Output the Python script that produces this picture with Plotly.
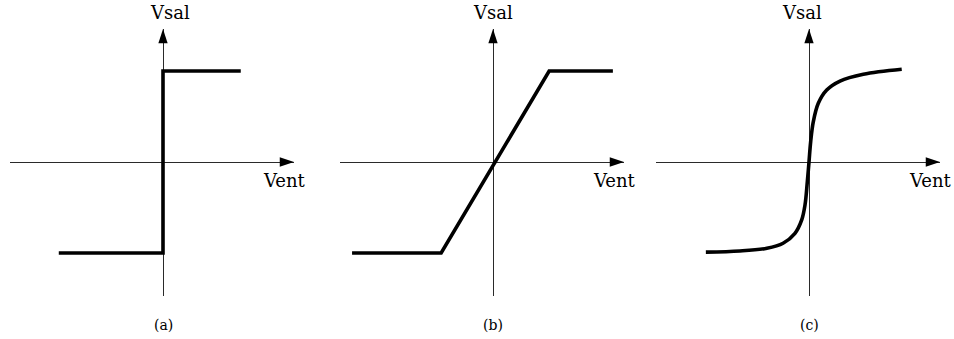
import plotly.graph_objects as go

W, H = 954, 339

# Transfer characteristics: Vent (input) and Vsal (output, normalised to saturation)
step_vent = [-1.93, 0, 0, 1.44]
step_vsal = [-1, -1, 1, 1]

ramp_vent = [-2.61, -0.96, 1.04, 2.22]
ramp_vsal = [-1, -1, 1, 1]

sigm_vent = [-1.91, -1.28, -0.78, -0.48, -0.26, -0.135, -0.074, -0.031, 0,
             0.031, 0.08, 0.172, 0.328, 0.574, 1.006, 1.717]
sigm_vsal = [-0.99, -0.978, -0.948, -0.893, -0.784, -0.637, -0.473, -0.216, 0,
             0.223, 0.443, 0.645, 0.791, 0.89, 0.964, 1.019]

panel_labels = ["(a)", "(b)", "(c)"]
x_title = "Vent"
y_title = "Vsal"

# ---- geometry (pixels) ----
PX_X, PX_Y = 54.0, 91.0          # pixels per data unit
origins_px = [163, 493, 809]      # x pixel of each vertical axis
AX_LEFT, AX_RIGHT = 153, 131      # extent of horizontal axis around origin
Y0_PX, Y_TOP_PX, Y_BOT_PX = 162, 29, 296

x_range = [-AX_LEFT / PX_X, AX_RIGHT / PX_X]
y_range = [-(Y_BOT_PX - Y0_PX) / PX_Y, (Y0_PX - Y_TOP_PX) / PX_Y]
y_domain = [1 - Y_BOT_PX / H, 1 - Y_TOP_PX / H]

curves = [(step_vent, step_vsal, "linear"),
          (ramp_vent, ramp_vsal, "linear"),
          (sigm_vent, sigm_vsal, "spline")]

AXIS_COLOR = "#2a2a2a"
TXT_FONT = dict(family="DejaVu Serif", color="black")

fig = go.Figure()
layout = dict(width=W, height=H, margin=dict(l=0, r=0, t=0, b=0),
              paper_bgcolor="white", plot_bgcolor="rgba(0,0,0,0)",
              showlegend=False, annotations=[])

axis_common = dict(showgrid=False, showticklabels=False, ticks="", showline=False,
                   zeroline=True, zerolinecolor=AXIS_COLOR, zerolinewidth=1,
                   fixedrange=True)

vsal_shift = [7, 0, -7]

for i, (xs, ys, shape) in enumerate(curves):
    sfx = "" if i == 0 else str(i + 1)
    xa, ya = "x" + sfx, "y" + sfx
    o = origins_px[i]
    layout["xaxis" + sfx] = dict(axis_common, range=x_range, anchor=ya,
                                 domain=[(o - AX_LEFT) / W, (o + AX_RIGHT) / W])
    layout["yaxis" + sfx] = dict(axis_common, range=y_range, anchor=xa,
                                 domain=y_domain)

    # characteristic curve
    fig.add_trace(go.Scatter(x=xs, y=ys, xaxis=xa, yaxis=ya, mode="lines",
                             line=dict(color="black", width=3.6, shape=shape,
                                       smoothing=1.0),
                             hoverinfo="skip"))

    # arrowheads at the ends of both axes
    fig.add_trace(go.Scatter(x=[x_range[1], 0], y=[0, y_range[1]],
                             xaxis=xa, yaxis=ya, mode="markers", cliponaxis=False,
                             marker=dict(symbol="arrow", size=15, angle=[90, 0],
                                         color="black", line=dict(width=0)),
                             hoverinfo="skip"))

    layout["annotations"] += [
        dict(text=y_title, xref=xa, yref="paper", x=0, y=1 - 13 / H,
             xshift=vsal_shift[i], showarrow=False, xanchor="center",
             yanchor="middle", font=dict(TXT_FONT, size=18)),
        dict(text=x_title, xref=xa, yref="paper", x=x_range[1], y=1 - 180 / H,
             xshift=-10, showarrow=False, xanchor="center", yanchor="middle",
             font=dict(TXT_FONT, size=18)),
        dict(text=panel_labels[i], xref=xa, yref="paper", x=0, y=1 - 325 / H,
             showarrow=False, xanchor="center", yanchor="middle",
             font=dict(TXT_FONT, size=14)),
    ]

fig.update_layout(**layout)
fig.write_html("out.html")
